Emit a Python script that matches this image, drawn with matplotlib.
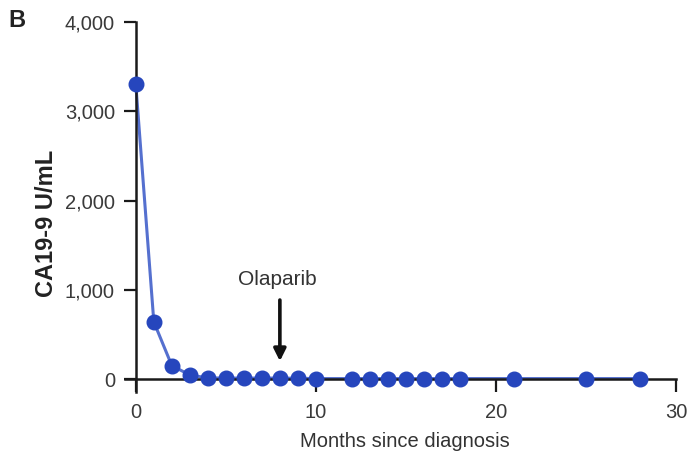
import matplotlib
matplotlib.use("Agg")
import matplotlib.pyplot as plt
from matplotlib.ticker import FuncFormatter

# CA19-9 follow-up
months = [0, 1, 2, 3, 4, 5, 6, 7, 8, 9, 10, 12, 13, 14, 15, 16, 17, 18, 21, 25, 28]
ca199 = [3300, 640, 150, 45, 12, 10, 10, 10, 10, 8, 5, 5, 5, 5, 5, 5, 5, 5, 5, 5, 5]
x_ticks = [0, 10, 20, 30]
y_ticks = [0, 1000, 2000, 3000, 4000]
olaparib_start = 8

plt.rcParams["font.family"] = ["Liberation Sans", "DejaVu Sans"]

fig = plt.figure(figsize=(6.88, 4.55), dpi=100)
ax = fig.add_axes([0.1817, 0.1376, 0.8009, 0.814])

ax.plot(months, ca199, color="#5570cf", linewidth=2.2, zorder=2, clip_on=False)
ax.plot(months, ca199, linestyle="none", marker="o", markersize=10.5,
        color="#2646bd", markeredgecolor="#2646bd", zorder=3, clip_on=False)

ax.set_xlim(-0.6, 30)
ax.set_ylim(-150, 4000)

# prism-style crossing axes
ax.spines["left"].set_position(("data", 0))
ax.spines["bottom"].set_position(("data", 0))
ax.spines["right"].set_visible(False)
ax.spines["top"].set_visible(False)
for s in ("left", "bottom"):
    ax.spines[s].set_linewidth(1.8)
    ax.spines[s].set_color("#1a1a1a")

ax.set_xticks(x_ticks)
ax.set_yticks(y_ticks)
ax.yaxis.set_major_formatter(FuncFormatter(lambda v, p: f"{int(v):,}"))
ax.tick_params(axis="both", direction="out", length=9, width=1.6,
               color="#1a1a1a", labelsize=14.5, labelcolor="#3a3a3a")
ax.tick_params(axis="x", pad=8)
ax.tick_params(axis="y", pad=6)

ax.set_xlabel("Months since diagnosis", fontsize=14.5, color="#333333")
ax.xaxis.set_label_coords(0.508, -0.108)
ax.set_ylabel("CA19-9 U/mL", fontsize=17, color="#222222", fontweight="bold")
ax.yaxis.set_label_coords(-0.121, 0.455)

# treatment start marker
ax.text(olaparib_start - 0.15, 1120, "Olaparib", ha="center", va="center",
        fontsize=15, color="#333333")
ax.annotate("", xy=(olaparib_start, 200), xytext=(olaparib_start, 885),
            arrowprops=dict(arrowstyle="-|>", color="#111111", lw=2.6,
                            mutation_scale=18, shrinkA=0, shrinkB=0))

fig.text(0.012, 0.955, "B", fontsize=17, fontweight="bold", color="#222222",
         ha="left", va="center")

fig.savefig("out.png", dpi=100)
